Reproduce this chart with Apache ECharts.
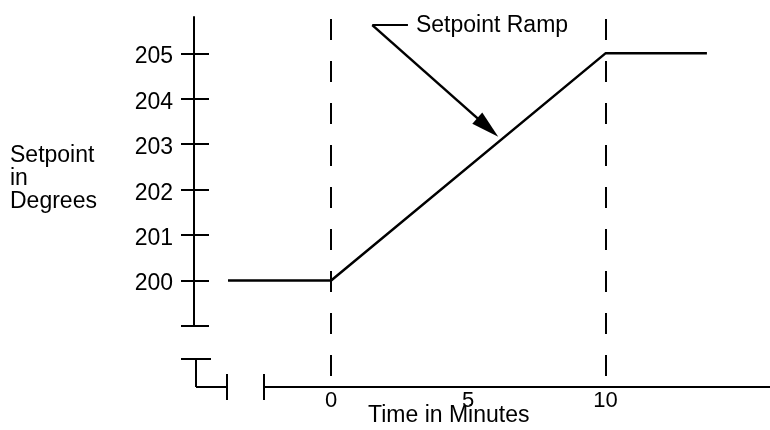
<!DOCTYPE html>
<html>
<head>
<meta charset="utf-8">
<script src="https://cdn.jsdelivr.net/npm/echarts@6.0.0/dist/echarts.min.js"></script>
<style>
  html, body { margin: 0; padding: 0; background: #fff; }
  #chart { width: 770px; height: 430px; }
</style>
</head>
<body>
<div id="chart"></div>
<script>
// setpoint profile (minutes, degrees)
const times = [-3.76, 0, 10, 13.7]
const setpoints = [200, 200, 205, 205]
const yTicks = [199, 200, 201, 202, 203, 204, 205]
const yLabels = [200, 201, 202, 203, 204, 205]
const xLabels = [0, 5, 10]
const rampMarks = [0, 10]
// annotation arrow, in data units
const arrowFrom = [1.5, 205.62]
const arrowTo = [5.71, 203.37]
const labelLineTo = [2.8, 205.62]
const annotationText = 'Setpoint Ramp'

const font = 'Liberation Sans, Arial, Helvetica, sans-serif'
const black = '#000'

const chart = echarts.init(document.getElementById('chart'))

const option = {
  animation: false,
  backgroundColor: '#fff',
  textStyle: { fontFamily: font, color: black },
  grid: [
    { left: 194, right: 0, top: 17, height: 309 },
    { left: 264, right: 0, top: 17, bottom: 43 }
  ],
  xAxis: [
    { gridIndex: 0, type: 'value', min: -5, max: 16, show: false },
    {
      gridIndex: 1,
      type: 'value',
      min: -2.445,
      max: 16,
      axisLine: { onZero: false, lineStyle: { color: black, width: 2 } },
      axisTick: { show: false },
      splitLine: { show: false },
      axisLabel: {
        customValues: xLabels,
        color: black,
        fontSize: 22,
        fontFamily: font,
        margin: 3
      }
    }
  ],
  yAxis: [
    {
      gridIndex: 0,
      type: 'value',
      min: 199,
      max: 205.8,
      axisLine: { show: true, onZero: false, lineStyle: { color: black, width: 2 } },
      axisTick: { show: true, customValues: yTicks, length: 13, lineStyle: { color: black, width: 2 } },
      splitLine: { show: false },
      axisLabel: {
        customValues: yLabels,
        color: black,
        fontFamily: font,
        margin: 21,
        formatter: '{v|{value}}',
        rich: { v: { fontSize: 23, fontFamily: font, color: black, padding: [7, 0, 0, 0] } }
      }
    },
    {
      gridIndex: 0,
      type: 'value',
      position: 'left',
      min: 199,
      max: 205.8,
      axisLine: { show: false, onZero: false },
      axisTick: { show: true, inside: true, customValues: yTicks, length: 15, lineStyle: { color: black, width: 2 } },
      splitLine: { show: false },
      axisLabel: { show: false }
    },
    { gridIndex: 1, type: 'value', min: 0, max: 1, show: false }
  ],
  series: [
    {
      name: 'Setpoint',
      type: 'line',
      xAxisIndex: 0,
      yAxisIndex: 0,
      data: times.map((t, i) => [t, setpoints[i]]),
      symbol: 'none',
      lineStyle: { color: black, width: 2.5 },
      markLine: {
        silent: true,
        symbol: 'none',
        lineStyle: { color: black, width: 2.5, type: 'solid' },
        label: { show: false },
        data: [
          [
            { coord: arrowFrom, symbol: 'none' },
            { coord: arrowTo, symbol: 'triangle', symbolSize: [15, 28] }
          ],
          [
            { coord: arrowFrom, symbol: 'none', lineStyle: { width: 2 } },
            {
              coord: labelLineTo,
              symbol: 'none',
              label: {
                show: true,
                position: 'end',
                formatter: annotationText,
                color: black,
                fontSize: 23,
                fontFamily: font,
                distance: 8
              }
            }
          ]
        ]
      }
    },
    {
      name: 'marks',
      type: 'line',
      xAxisIndex: 1,
      yAxisIndex: 2,
      data: [],
      markLine: {
        silent: true,
        symbol: 'none',
        label: { show: false },
        lineStyle: { color: black, width: 2, type: [21, 21], dashOffset: 31 },
        data: rampMarks.map(v => ({ xAxis: v }))
      }
    }
  ],
  graphic: [
    // axis break marks
    { type: 'line', shape: { x1: 181, y1: 359, x2: 211, y2: 359 }, style: { stroke: black, lineWidth: 2 } },
    { type: 'line', shape: { x1: 196, y1: 359, x2: 196, y2: 387 }, style: { stroke: black, lineWidth: 2 } },
    { type: 'line', shape: { x1: 196, y1: 387, x2: 227, y2: 387 }, style: { stroke: black, lineWidth: 2 } },
    { type: 'line', shape: { x1: 227, y1: 374, x2: 227, y2: 400 }, style: { stroke: black, lineWidth: 2 } },
    { type: 'line', shape: { x1: 264, y1: 374, x2: 264, y2: 400 }, style: { stroke: black, lineWidth: 2 } },
    {
      type: 'text',
      left: 10,
      top: 144,
      style: {
        text: 'Setpoint\nin\nDegrees',
        font: '23px ' + font,
        fill: black,
        lineHeight: 23
      }
    },
    {
      type: 'text',
      left: 368,
      top: 404,
      style: {
        text: 'Time in Minutes',
        font: '23px ' + font,
        fill: black
      }
    }
  ]
}

chart.setOption(option)
</script>
</body>
</html>
